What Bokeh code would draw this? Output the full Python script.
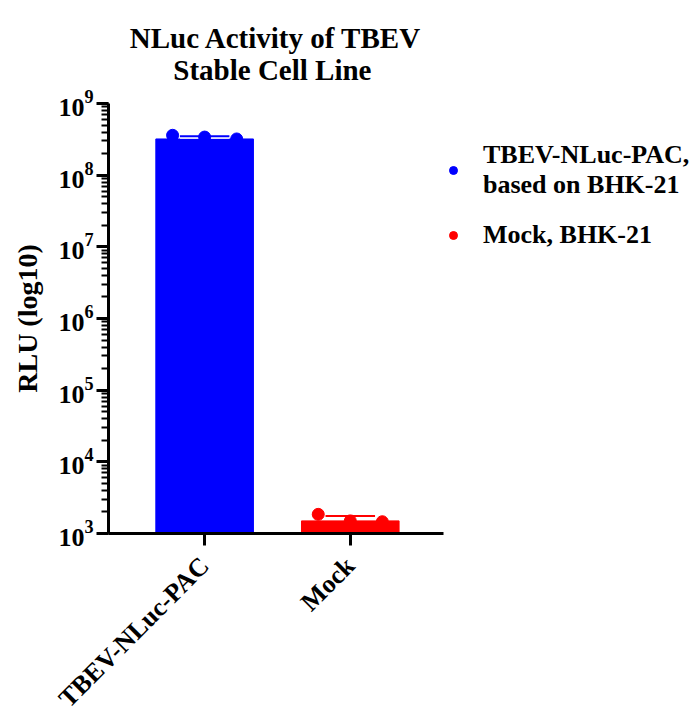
import math
from bokeh.plotting import figure
from bokeh.models import ColumnDataSource, Legend, LegendItem, LogTicker, FixedTicker, Range1d
from bokeh.embed import file_html
from bokeh.resources import INLINE

categories = ["TBEV-NLuc-PAC", "Mock"]
legend_labels = ["TBEV-NLuc-PAC,\nbased on BHK-21", "Mock, BHK-21"]
title_lines = ["NLuc Activity of TBEV", "Stable Cell Line"]
bar_values = [3.2e8, 1.5e3]
err_upper = [3.5e8, 1.76e3]
points_tbev = [3.6e8, 3.4e8, 3.2e8]
points_mock = [1.85e3, 1.5e3, 1.46e3]
colors = ["#0000FF", "#FF0000"]

FONT = "Liberation Serif"
xs = [1, 2]
offsets = [-0.22, 0.0, 0.22]

p = figure(frame_width=335, frame_height=430, output_backend="svg", toolbar_location=None,
           y_axis_type="log", x_range=Range1d(0.34, 2.64), y_range=Range1d(1e3, 1e9),
           min_border_left=108, min_border_right=0, min_border_top=103, min_border_bottom=175)

# second line padded with non-breaking spaces so that it sits centred under the first
p.title.text = title_lines[0] + "\n" + "\u00a0" * 6 + title_lines[1]
p.title.align = "center"
p.title.text_font = FONT
p.title.text_font_size = "29px"
p.title.text_font_style = "bold"
p.title.text_color = "black"
p.title.standoff = 36

src = ColumnDataSource(dict(x=xs, top=bar_values, color=colors))
p.vbar(x="x", top="top", bottom=1e3, width=0.67, color="color", source=src)

for i, (pts, c) in enumerate(zip([points_tbev, points_mock], colors)):
    # cap line of error bar
    p.segment(x0=[xs[i] - 0.17], x1=[xs[i] + 0.17], y0=[err_upper[i]], y1=[err_upper[i]],
              line_color="white", line_width=5)
    p.segment(x0=[xs[i] - 0.17], x1=[xs[i] + 0.17], y0=[err_upper[i]], y1=[err_upper[i]],
              line_color=c, line_width=2)
    p.scatter(x=[xs[i] + o for o in offsets], y=pts, size=12, color=c)

# legend glyphs (kept out of view)
r1 = p.scatter(x=[-10], y=[1e5], size=12, color=colors[0])
r2 = p.scatter(x=[-10], y=[1e5], size=12, color=colors[1])
leg = Legend(items=[LegendItem(label=legend_labels[0], renderers=[r1]),
                    LegendItem(label=legend_labels[1], renderers=[r2])],
             location=(0, 283), border_line_color=None, background_fill_alpha=0,
             label_text_font=FONT, label_text_font_size="26px", label_text_font_style="bold",
             label_text_color="black",
             glyph_width=20, glyph_height=20, spacing=20, label_standoff=20, padding=2,
             margin=0)
p.add_layout(leg, "right")

p.xgrid.visible = False
p.ygrid.visible = False
p.outline_line_color = None

ya = p.yaxis[0]
ya.ticker = LogTicker(num_minor_ticks=10)
ya.axis_label = "RLU (log10)"
ya.axis_label_text_font = FONT
ya.axis_label_text_font_size = "28px"
ya.axis_label_text_font_style = "bold"
ya.axis_label_text_color = "black"
ya.axis_label_standoff = 12
ya.major_label_text_font = FONT
ya.major_label_text_font_size = "26px"
ya.major_label_text_font_style = "bold"
ya.major_label_text_color = "black"
ya.major_label_standoff = 3
ya.axis_line_width = 3
ya.major_tick_line_width = 3
ya.major_tick_out = 12
ya.major_tick_in = 0
ya.minor_tick_line_width = 2
ya.minor_tick_out = 7
ya.minor_tick_in = 0

xa = p.xaxis[0]
xa.ticker = FixedTicker(ticks=xs)
xa.major_label_overrides = {x: c for x, c in zip(xs, categories)}
xa.major_label_orientation = math.pi / 4
xa.major_label_text_font = FONT
xa.major_label_text_font_size = "26px"
xa.major_label_text_font_style = "bold"
xa.major_label_text_color = "black"
xa.major_label_standoff = 16
xa.axis_line_width = 3
xa.major_tick_line_width = 3
xa.major_tick_out = 12
xa.major_tick_in = 0
xa.minor_tick_line_color = None

open("out.html", "w").write(file_html(p, INLINE))
